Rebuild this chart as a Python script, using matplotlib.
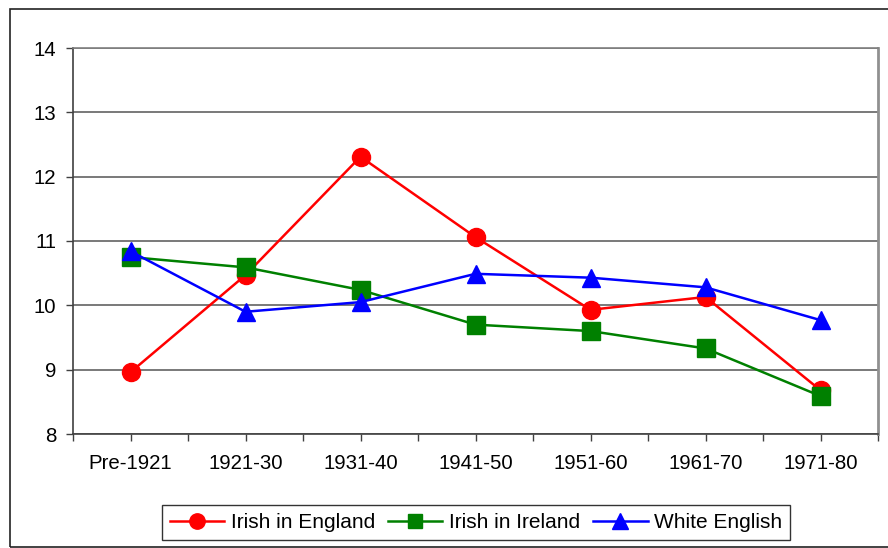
import matplotlib
matplotlib.use("Agg")
import matplotlib.pyplot as plt
from matplotlib.patches import Rectangle

plt.rcParams['font.family'] = ['Liberation Sans', 'DejaVu Sans']

categories = ["Pre-1921", "1921-30", "1931-40", "1941-50", "1951-60", "1961-70", "1971-80"]
irish_in_england = [8.96, 10.47, 12.31, 11.06, 9.93, 10.13, 8.68]
irish_in_ireland = [10.75, 10.59, 10.24, 9.70, 9.60, 9.33, 8.59]
white_english = [10.84, 9.90, 10.05, 10.49, 10.43, 10.28, 9.77]
y_ticks = [8, 9, 10, 11, 12, 13, 14]

fig = plt.figure(figsize=(8.88, 5.48), dpi=100)
ax = fig.add_axes([73/888, 1-434/548, (878-73)/888, (434-48)/548])

x = list(range(len(categories)))
ax.plot(x, irish_in_england, color='#FF0000', lw=1.8, marker='o', ms=13, label='Irish in England', zorder=3)
ax.plot(x, irish_in_ireland, color='#008000', lw=1.8, marker='s', ms=12.5, label='Irish in Ireland', zorder=3)
ax.plot(x, white_english, color='#0000FF', lw=1.8, marker='^', ms=13, label='White English', zorder=4)

ax.set_xlim(-0.5, len(categories) - 0.5)
ax.set_ylim(8, 14)
ax.set_yticks(y_ticks)
ax.set_yticklabels([str(v) for v in y_ticks], fontsize=14.7)
ax.set_xticks(x)
ax.set_xticklabels(categories, fontsize=14.7)
ax.set_xticks([i - 0.5 for i in range(len(categories) + 1)], minor=True)

ax.yaxis.grid(True, color='#555555', lw=1.1)
ax.set_axisbelow(True)

ax.tick_params(axis='y', direction='out', length=5, width=1, color='#404040', pad=7)
ax.tick_params(axis='x', which='major', direction='out', length=5, width=1, color='#404040', pad=9.5)
ax.tick_params(axis='x', which='minor', direction='out', length=5, width=1, color='#404040')

for s in ['left', 'bottom']:
    ax.spines[s].set_color('#404040')
    ax.spines[s].set_linewidth(1.2)
ax.spines['top'].set_color('#808080')
ax.spines['top'].set_linewidth(1.2)
ax.spines['right'].set_color('#909090')
ax.spines['right'].set_linewidth(2)

leg = fig.legend(loc='center', bbox_to_anchor=(476/888, 1-522.5/548), ncol=3, fontsize=15,
                 frameon=True, fancybox=False, edgecolor='black', handlelength=2.6,
                 handletextpad=0.3, columnspacing=0.65, borderpad=0.38, markerscale=0.85,
                 borderaxespad=0)
leg.get_frame().set_linewidth(1)

fig.patches.append(Rectangle((10/888, 1/548), 1.0, 538/548, transform=fig.transFigure,
                             fill=False, edgecolor='#222222', lw=1.2, clip_on=False))

fig.savefig('out.png', dpi=100)
